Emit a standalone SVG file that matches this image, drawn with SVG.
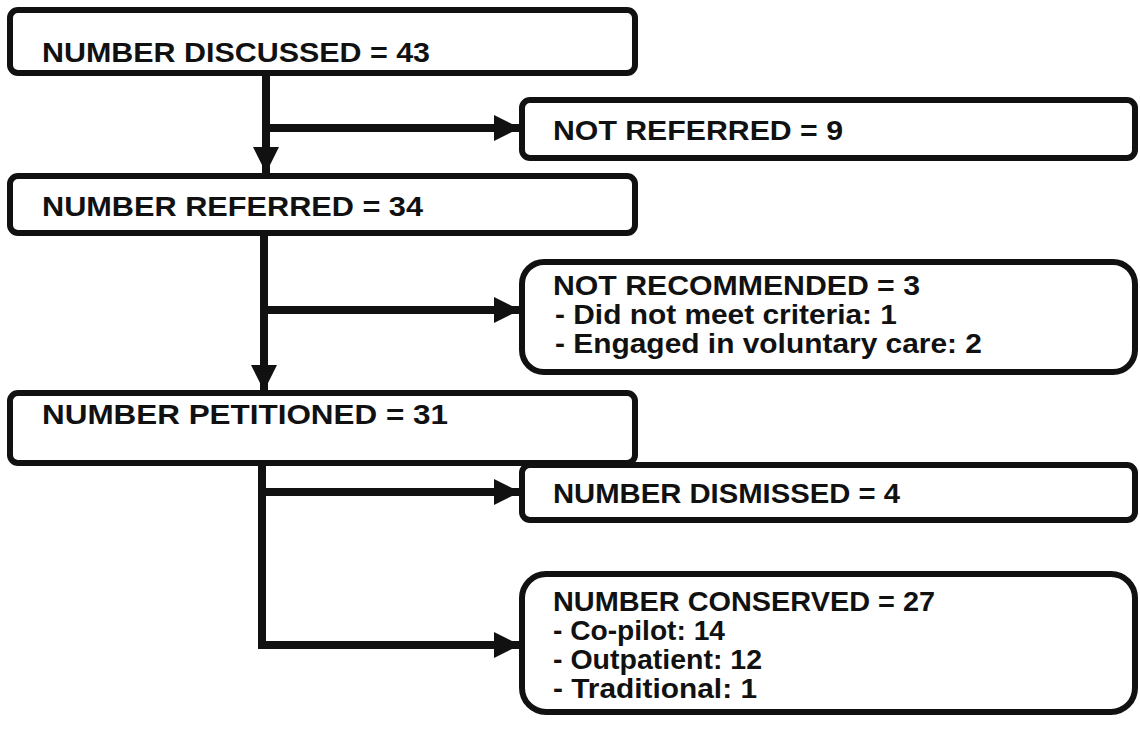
<svg xmlns="http://www.w3.org/2000/svg" width="1140" height="731" viewBox="0 0 1140 731">
<style>
.box{fill:#fff;stroke:#111;stroke-width:6}
.t{font-family:"Liberation Sans",Arial,sans-serif;font-weight:bold;font-size:28px;fill:#111}
.s{font-family:"Liberation Sans",Arial,sans-serif;font-weight:bold;font-size:27px;fill:#111}
.c{fill:none;stroke:#111;stroke-width:8}
</style>
<defs>
<marker id="ah" viewBox="0 0 10 10" refX="10" refY="5" markerWidth="3.3" markerHeight="3.4" orient="auto" markerUnits="strokeWidth">
<path d="M0,0 L10,5 L0,10 Z" fill="#111"/>
</marker>
</defs>
<g id="connectors">
<path class="c" d="M266,73 V173" marker-end="url(#ah)"/>
<path class="c" d="M266,128 H520" marker-end="url(#ah)"/>
<path class="c" d="M264,232 V391" marker-end="url(#ah)"/>
<path class="c" d="M264,310 H520" marker-end="url(#ah)"/>
<path class="c" d="M262,463 V649"/>
<path class="c" d="M258,492 H520" marker-end="url(#ah)"/>
<path class="c" d="M258,645 H520" marker-end="url(#ah)"/>
</g>
<g id="n1"><rect class="box" x="10" y="10" width="625" height="63" rx="8"/><text class="t" x="42" y="62" textLength="388" lengthAdjust="spacingAndGlyphs">NUMBER DISCUSSED = 43</text></g>
<g id="n2"><rect class="box" x="522" y="100" width="613" height="58" rx="8"/><text class="t" x="553" y="140" textLength="290" lengthAdjust="spacingAndGlyphs">NOT REFERRED = 9</text></g>
<g id="n3"><rect class="box" x="10" y="176" width="625" height="57" rx="8"/><text class="t" x="42" y="216" textLength="381" lengthAdjust="spacingAndGlyphs">NUMBER REFERRED = 34</text></g>
<g id="n4"><rect class="box" x="522" y="262" width="613" height="110" rx="22"/>
<text class="t" x="553" y="295" textLength="367" lengthAdjust="spacingAndGlyphs">NOT RECOMMENDED = 3</text>
<text class="s" x="555" y="324" textLength="342" lengthAdjust="spacingAndGlyphs">- Did not meet criteria: 1</text>
<text class="s" x="555" y="353" textLength="427" lengthAdjust="spacingAndGlyphs">- Engaged in voluntary care: 2</text></g>
<g id="n5"><rect class="box" x="10" y="393" width="625" height="70" rx="8"/><text class="t" x="42" y="424" textLength="406" lengthAdjust="spacingAndGlyphs">NUMBER PETITIONED = 31</text></g>
<g id="n6"><rect class="box" x="522" y="465" width="613" height="55" rx="8"/><text class="t" x="553" y="503" textLength="347" lengthAdjust="spacingAndGlyphs">NUMBER DISMISSED = 4</text></g>
<g id="n7"><rect class="box" x="522" y="574" width="613" height="138" rx="24"/>
<text class="t" x="553" y="611" textLength="382" lengthAdjust="spacingAndGlyphs">NUMBER CONSERVED = 27</text>
<text class="s" x="553" y="640" textLength="172" lengthAdjust="spacingAndGlyphs">- Co-pilot: 14</text>
<text class="s" x="553" y="669" textLength="209" lengthAdjust="spacingAndGlyphs">- Outpatient: 12</text>
<text class="s" x="553" y="698" textLength="204" lengthAdjust="spacingAndGlyphs">- Traditional: 1</text></g>
</svg>
